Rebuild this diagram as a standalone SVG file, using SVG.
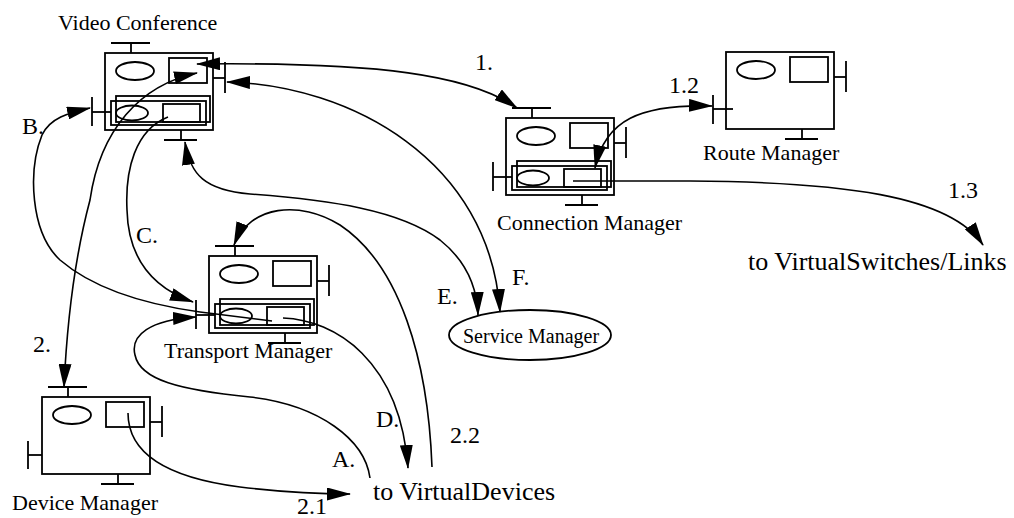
<svg xmlns="http://www.w3.org/2000/svg" xmlns:xlink="http://www.w3.org/1999/xlink" width="1014" height="518" viewBox="0 0 1014 518">
<style>
.n rect, .n ellipse, .n line, .p rect, .p ellipse, .p line {fill:none;stroke:#000;stroke-width:1.8}
.c path {fill:none;stroke:#000;stroke-width:1.6}
text {font-family:"Liberation Serif","DejaVu Serif",serif;fill:#000}
.nl {font-size:22px}
.lb {font-size:24px}
.big {font-size:26px}
</style>
<defs>
<marker id="ah" markerUnits="userSpaceOnUse" viewBox="0 0 24 13" markerWidth="24" markerHeight="13" refX="23" refY="6.5" orient="auto-start-reverse">
<path d="M0,0 L24,6.5 L0,13 z" fill="#000"/>
</marker>
<g id="base" class="p">
<rect x="0" y="0" width="108" height="77"/>
<ellipse cx="30" cy="18" rx="19" ry="9"/>
<rect x="64" y="5" width="38" height="25"/>
<line x1="108" y1="25" x2="120" y2="25"/>
<line x1="120" y1="9" x2="120" y2="40"/>
<line x1="76" y1="77" x2="76" y2="87"/>
<line x1="59" y1="87" x2="92" y2="87"/>
</g>
<g id="topT" class="p">
<line x1="26" y1="0" x2="26" y2="-10"/>
<line x1="6" y1="-10" x2="45" y2="-10"/>
</g>
<g id="lower" class="p">
<rect x="11" y="43" width="94" height="26"/>
<rect x="6" y="48" width="95" height="24"/>
<ellipse cx="27" cy="60" rx="16" ry="7.5"/>
<rect x="58" y="51" width="37" height="18"/>
<line x1="-13" y1="44" x2="-13" y2="73"/>
<line x1="-13" y1="59" x2="6" y2="59"/>
</g>
</defs>
<rect width="1014" height="518" fill="#fff"/>

<g id="video-conference" class="n">
<use xlink:href="#base" href="#base" x="105" y="53"/>
<use xlink:href="#topT" href="#topT" x="105" y="53"/>
<use xlink:href="#lower" href="#lower" x="105" y="53"/>
<text class="nl" x="58" y="30">Video Conference</text>
</g>

<g id="connection-manager" class="n">
<use xlink:href="#base" href="#base" x="506" y="118"/>
<use xlink:href="#topT" href="#topT" x="506" y="118"/>
<use xlink:href="#lower" href="#lower" x="506" y="118"/>
<text class="nl" x="497" y="230">Connection Manager</text>
</g>

<g id="route-manager" class="n">
<use xlink:href="#base" href="#base" x="726" y="52"/>
<line x1="713" y1="95" x2="713" y2="124"/>
<line x1="713" y1="109" x2="733" y2="109"/>
<text class="nl" x="703" y="160">Route Manager</text>
</g>

<g id="transport-manager" class="n">
<use xlink:href="#base" href="#base" x="209" y="256"/>
<use xlink:href="#topT" href="#topT" x="209" y="256"/>
<use xlink:href="#lower" href="#lower" x="209" y="256"/>
<text class="nl" x="164" y="358">Transport Manager</text>
</g>

<g id="device-manager" class="n">
<use xlink:href="#base" href="#base" x="42" y="397"/>
<use xlink:href="#topT" href="#topT" x="42" y="397"/>
<line x1="28" y1="441" x2="28" y2="469"/>
<line x1="28" y1="455" x2="42" y2="455"/>
<text class="nl" x="12" y="510">Device Manager</text>
</g>

<g id="service-manager" class="n">
<ellipse cx="530" cy="335" rx="81" ry="25"/>
<text x="463" y="343" style="font-size:20px">Service Manager</text>
</g>

<g id="connectors" class="c">
<path d="M197,64 C380,62 470,75 517,108" marker-start="url(#ah)" marker-end="url(#ah)"/>
<path d="M595,168 C605,120 640,104 712,106" marker-start="url(#ah)" marker-end="url(#ah)"/>
<path d="M573,181 L690,181 C840,182 950,195 983,245" marker-end="url(#ah)"/>
<path d="M185,142 C190,175 205,190 250,194 C330,200 400,210 440,240 C465,260 477,285 478,315" marker-start="url(#ah)" marker-end="url(#ah)"/>
<path d="M227,82 C350,85 490,160 500,312" marker-start="url(#ah)" marker-end="url(#ah)"/>
<path d="M197,73 C140,85 100,130 90,200 C78,245 68,300 64,387" marker-start="url(#ah)" marker-end="url(#ah)"/>
<path d="M128,413 C128,455 170,478 240,487 C290,493 320,494 350,494" marker-end="url(#ah)"/>
<path d="M432,467 C428,360 400,265 340,225 C300,200 250,205 234,245" marker-end="url(#ah)"/>
<path d="M370,478 C365,440 320,405 250,397 C180,390 140,380 135,355 C130,335 150,320 196,317" marker-end="url(#ah)"/>
<path d="M272,321 L200,312 C150,305 95,290 60,260 C30,232 28,170 42,135 C50,118 68,113 90,108" marker-end="url(#ah)"/>
<path d="M168,117 C135,130 125,170 127,210 C128,250 145,285 193,302" marker-end="url(#ah)"/>
<path d="M283,318 C335,320 400,360 408,468" marker-end="url(#ah)"/>
</g>

<g id="labels">
<text class="lb" x="475" y="70">1.</text>
<text class="lb" x="669" y="93">1.2</text>
<text class="lb" x="948" y="198">1.3</text>
<text class="lb" x="22" y="134">B.</text>
<text class="lb" x="136" y="243">C.</text>
<text class="lb" x="33" y="352">2.</text>
<text class="lb" x="332" y="467">A.</text>
<text class="lb" x="376" y="427">D.</text>
<text class="lb" x="450" y="443">2.2</text>
<text class="lb" x="297" y="514">2.1</text>
<text class="lb" x="437" y="304">E.</text>
<text class="lb" x="512" y="285">F.</text>
<text class="big" x="373" y="500">to VirtualDevices</text>
<text class="big" x="748" y="270">to VirtualSwitches/Links</text>
</g>
</svg>
